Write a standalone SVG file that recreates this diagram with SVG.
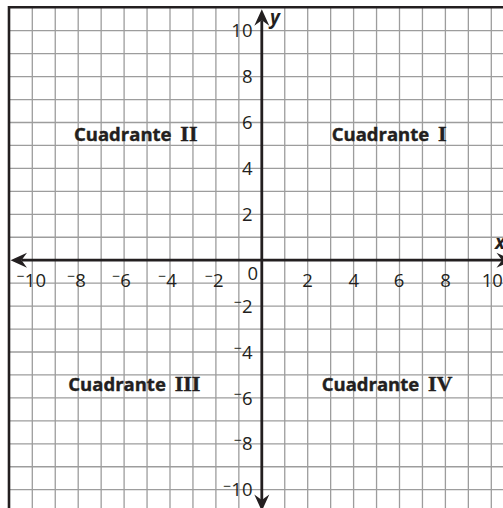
<svg xmlns="http://www.w3.org/2000/svg" width="503" height="508" viewBox="0 0 503 508">
<style>
.grid{fill:none;stroke:#9d9d9d;stroke-width:1.3}
.border{fill:none;stroke:#231f20;stroke-width:2.6}
.axis{fill:none;stroke:#231f20;stroke-width:2.8}
.num{font-family:"Open Sans","Noto Sans",sans-serif;font-size:18.5px;fill:#231f20}
.m{font-size:14px}
.q{font-family:"Open Sans","Noto Sans",sans-serif;font-size:18.5px;font-weight:bold;fill:#231f20;stroke:#231f20;stroke-width:0.4}
.r{font-family:"Liberation Serif","Times New Roman",serif;font-size:22px;font-weight:bold}
.var{font-family:"Open Sans","Noto Sans",sans-serif;font-size:19px;font-weight:bold;font-style:italic;fill:#231f20}
</style>
<defs>
<marker id="ah" viewBox="-17 -8 18 16" refX="-11" refY="0" markerWidth="18" markerHeight="16" markerUnits="userSpaceOnUse" orient="auto-start-reverse">
<path d="M0,0 L-16.5,-7.5 L-11,0 L-16.5,7.5 Z" fill="#231f20"/>
</marker>
</defs>
<rect width="503" height="508" fill="#ffffff"/>
<g id="grid">
<path class="grid" d="M32.3 7.3V508M55.25 7.3V508M78.2 7.3V508M101.15 7.3V508M124.1 7.3V508M147.05 7.3V508M170 7.3V508M192.95 7.3V508M215.9 7.3V508M238.85 7.3V508M284.75 7.3V508M307.7 7.3V508M330.65 7.3V508M353.6 7.3V508M376.55 7.3V508M399.5 7.3V508M422.45 7.3V508M445.4 7.3V508M468.35 7.3V508M491.3 7.3V508
M9 30.7H503M9 53.65H503M9 76.6H503M9 99.55H503M9 122.5H503M9 145.45H503M9 168.4H503M9 191.35H503M9 214.3H503M9 237.25H503M9 283.15H503M9 306.1H503M9 329.05H503M9 352H503M9 374.95H503M9 397.9H503M9 420.85H503M9 443.8H503M9 466.75H503M9 489.7H503"/>
<path class="border" d="M9 508V7.3H503"/>
</g>
<g id="connectors">
<line id="x-axis" class="axis" x1="21.5" y1="260.2" x2="502" y2="260.2" marker-start="url(#ah)" marker-end="url(#ah)"/>
<line id="y-axis" class="axis" x1="261.8" y1="20.3" x2="261.8" y2="500" marker-start="url(#ah)" marker-end="url(#ah)"/>
</g>
<g id="axis-names">
<text class="var" x="270" y="23.5">y</text>
<text class="var" x="495" y="249">x</text>
</g>
<g id="y-labels" class="num" text-anchor="end">
<text x="252.5" y="37.3">10</text>
<text x="252.5" y="83.2">8</text>
<text x="252.5" y="129.1">6</text>
<text x="252.5" y="175">4</text>
<text x="252.5" y="220.9">2</text>
<text x="252.5" y="312.7"><tspan class="m" dy="-5.5">−</tspan><tspan dy="5.5">2</tspan></text>
<text x="252.5" y="358.6"><tspan class="m" dy="-5.5">−</tspan><tspan dy="5.5">4</tspan></text>
<text x="252.5" y="404.5"><tspan class="m" dy="-5.5">−</tspan><tspan dy="5.5">6</tspan></text>
<text x="252.5" y="450.4"><tspan class="m" dy="-5.5">−</tspan><tspan dy="5.5">8</tspan></text>
<text x="252.5" y="496.3"><tspan class="m" dy="-5.5">−</tspan><tspan dy="5.5">10</tspan></text>
</g>
<g id="x-labels" class="num">
<text x="46" y="286.7" text-anchor="end"><tspan class="m" dy="-5.5">−</tspan><tspan dy="5.5">10</tspan></text>
<text x="85.8" y="286.7" text-anchor="end"><tspan class="m" dy="-5.5">−</tspan><tspan dy="5.5">8</tspan></text>
<text x="130.8" y="286.7" text-anchor="end"><tspan class="m" dy="-5.5">−</tspan><tspan dy="5.5">6</tspan></text>
<text x="176.8" y="286.7" text-anchor="end"><tspan class="m" dy="-5.5">−</tspan><tspan dy="5.5">4</tspan></text>
<text x="223.5" y="286.7" text-anchor="end"><tspan class="m" dy="-5.5">−</tspan><tspan dy="5.5">2</tspan></text>
<text x="252.8" y="280" text-anchor="middle">0</text>
<text x="307.5" y="286.7" text-anchor="middle">2</text>
<text x="353.7" y="286.7" text-anchor="middle">4</text>
<text x="399" y="286.7" text-anchor="middle">6</text>
<text x="445.5" y="286.7" text-anchor="middle">8</text>
<text x="492.3" y="286.7" text-anchor="middle">10</text>
</g>
<g id="quadrant-II"><text class="q" x="74" y="141">Cuadrante <tspan class="r" dx="4">II</tspan></text></g>
<g id="quadrant-I"><text class="q" x="331.7" y="141">Cuadrante <tspan class="r" dx="4">I</tspan></text></g>
<g id="quadrant-III"><text class="q" x="68.3" y="391">Cuadrante <tspan class="r" dx="4">III</tspan></text></g>
<g id="quadrant-IV"><text class="q" x="321.7" y="391">Cuadrante <tspan class="r" dx="4">IV</tspan></text></g>
</svg>
